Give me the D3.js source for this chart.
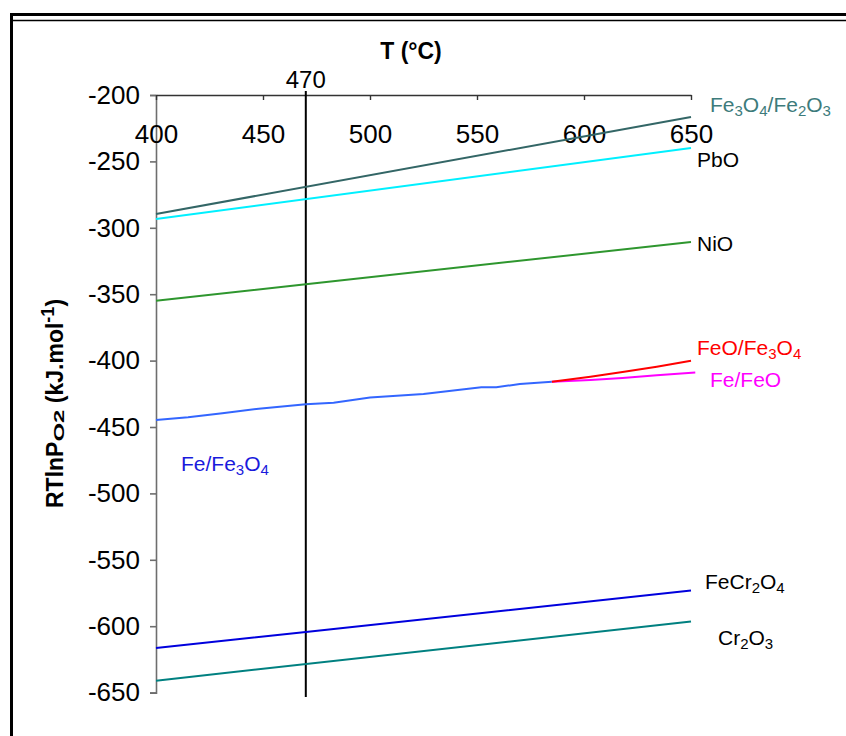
<!DOCTYPE html>
<html><head><meta charset="utf-8">
<script src="https://cdn.jsdelivr.net/npm/d3@7/dist/d3.min.js"></script>
<style>
html,body{margin:0;padding:0;background:#fff;}
svg{display:block;font-family:Arial,"Liberation Sans",Helvetica,sans-serif;}
</style></head>
<body>
<svg id="chart" width="846" height="736"></svg>
<script>
// ---- data ----
const xTicks = [400, 450, 500, 550, 600, 650];
const yTicks = [-200, -250, -300, -350, -400, -450, -500, -550, -600, -650];
const markerT = 470;

const fe3o4Fe2o3T = [400, 650];
const fe3o4Fe2o3V = [-289.6, -216.6];
const pboT = [400, 650];
const pboV = [-293.4, -239.9];
const nioT = [400, 470, 650];
const nioV = [-354.9, -342.5, -310.7];
const feFe3o4T = [400, 415, 431, 448, 470, 483, 500, 525, 552, 559, 570, 585];
const feFe3o4V = [-444.7, -442.7, -439.7, -436.2, -432.9, -431.7, -427.8, -425.2, -420.1, -420.1, -417.6, -416.0];
const feoFe3o4T = [585, 603, 618, 634, 650];
const feoFe3o4V = [-416.0, -412.1, -408.6, -404.6, -400.1];
const feFeoT = [585, 603, 618, 634, 652];
const feFeoV = [-416.0, -414.6, -413.1, -411.1, -409.0];
const fecr2o4T = [400, 470, 650];
const fecr2o4V = [-616.4, -604.4, -573.1];
const cr2o3T = [400, 650];
const cr2o3V = [-641.0, -596.4];

// ---- scales ----
const svg = d3.select("#chart");
const x = d3.scaleLinear().domain([400, 650]).range([156, 691]);
const y = d3.scaleLinear().domain([-200, -650]).range([95, 692.6]);

// frame
svg.append("rect").attr("x", 11.5).attr("y", 14.5).attr("width", 850).attr("height", 740)
  .attr("fill", "none").attr("stroke", "#000").attr("stroke-width", 3);
svg.append("line").attr("x1", 12).attr("x2", 846).attr("y1", 20.5).attr("y2", 20.5)
  .attr("stroke", "#000").attr("stroke-width", 1.5);

// y axis
const yAxis = svg.append("g").attr("transform", "translate(156,0)")
  .call(d3.axisLeft(y).tickValues(yTicks).tickSize(6).tickPadding(10).tickFormat(d3.format("d")));
yAxis.select(".domain").attr("stroke", "#6e6e6e").attr("stroke-width", 1.6);
yAxis.selectAll(".tick line").attr("stroke", "#6e6e6e").attr("stroke-width", 1.6);
yAxis.selectAll("text").attr("font-size", 26).attr("fill", "#000")
  .attr("font-family", "Arial, 'Liberation Sans', sans-serif").text(d => "-" + Math.abs(d));

// x axis (top)
const xAxis = svg.append("g").attr("transform", "translate(0,95)")
  .call(d3.axisBottom(x).tickValues(xTicks).tickSize(5).tickSizeOuter(0).tickPadding(25).tickFormat(d3.format("d")));
xAxis.select(".domain").attr("stroke", "#333").attr("stroke-width", 1.4);
xAxis.selectAll(".tick line").attr("stroke", "#333").attr("stroke-width", 1.4);
xAxis.selectAll("text").attr("font-size", 26).attr("fill", "#000")
  .attr("font-family", "Arial, 'Liberation Sans', sans-serif");

// marker line
svg.append("line").attr("x1", x(markerT)).attr("x2", x(markerT)).attr("y1", 91).attr("y2", 697)
  .attr("stroke", "#000").attr("stroke-width", 2);
svg.append("text").attr("x", x(markerT)).attr("y", 88).attr("text-anchor", "middle")
  .attr("font-size", 24).text(String(markerT));

// title
svg.append("text").attr("x", 411).attr("y", 59).attr("text-anchor", "middle")
  .attr("font-size", 23).attr("font-weight", "bold").text("T (°C)");

// y label
const yl = svg.append("text").attr("transform", "translate(63,508) rotate(-90)")
  .attr("text-anchor", "start").attr("font-size", 23).attr("font-weight", "bold");
yl.append("tspan").text("RTlnP");
yl.append("tspan").attr("font-size", 15).attr("dy", 1).attr("textLength", 32)
  .attr("lengthAdjust", "spacingAndGlyphs").text("O2");
yl.append("tspan").attr("dy", -1).text(" (kJ.mol");
yl.append("tspan").attr("font-size", 18).attr("dy", -9).text("-1");
yl.append("tspan").attr("dy", 9).text(")");

// lines
const line = d3.line().x(d => x(d[0])).y(d => y(d[1]));
const series = [
  {t: fe3o4Fe2o3T, v: fe3o4Fe2o3V, c: "#336666", w: 2},
  {t: pboT, v: pboV, c: "#00f0ff", w: 2},
  {t: nioT, v: nioV, c: "#2e962e", w: 2},
  {t: feFe3o4T, v: feFe3o4V, c: "#3366ff", w: 2},
  {t: feFeoT, v: feFeoV, c: "#ff00ff", w: 2},
  {t: feoFe3o4T, v: feoFe3o4V, c: "#ff0000", w: 2},
  {t: fecr2o4T, v: fecr2o4V, c: "#0000dd", w: 2},
  {t: cr2o3T, v: cr2o3V, c: "#008080", w: 2}
];
series.forEach(s => {
  svg.append("path").datum(s.t.map((t, i) => [t, s.v[i]]))
    .attr("d", line).attr("fill", "none").attr("stroke", s.c).attr("stroke-width", s.w);
});

// labels with subscripts
function label(xp, yp, parts, color) {
  const t = svg.append("text").attr("x", xp).attr("y", yp).attr("font-size", 21).attr("fill", color);
  let sub = false;
  parts.forEach(p => {
    if (typeof p === "string") {
      t.append("tspan").attr("dy", sub ? -4 : 0).attr("font-size", 21).text(p);
      sub = false;
    } else {
      t.append("tspan").attr("dy", sub ? 0 : 4).attr("font-size", 15).text(p.s);
      sub = true;
    }
  });
}
label(710, 112, ["Fe", {s: "3"}, "O", {s: "4"}, "/Fe", {s: "2"}, "O", {s: "3"}], "#3d7b7b");
label(697, 167, ["PbO"], "#000");
label(697, 251, ["NiO"], "#000");
label(697, 355, ["FeO/Fe", {s: "3"}, "O", {s: "4"}], "#ff0000");
label(710, 387, ["Fe/FeO"], "#ff00ff");
label(181, 471, ["Fe/Fe", {s: "3"}, "O", {s: "4"}], "#1a1adc");
label(705, 589, ["FeCr", {s: "2"}, "O", {s: "4"}], "#000");
label(718, 645, ["Cr", {s: "2"}, "O", {s: "3"}], "#000");
</script>
</body></html>
